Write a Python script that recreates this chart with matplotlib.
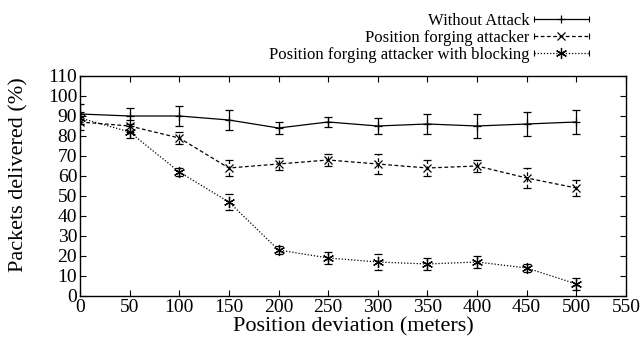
import numpy as np
import matplotlib
matplotlib.use("Agg")
import matplotlib.pyplot as plt
from matplotlib.lines import Line2D
from matplotlib.legend_handler import HandlerLine2D

plt.rcParams['font.family'] = ['Liberation Serif', 'DejaVu Serif']

# data
deviation = [0, 50, 100, 150, 200, 250, 300, 350, 400, 450, 500]
no_attack = [91, 90, 90, 88, 84, 87, 85, 86, 85, 86, 87]
no_attack_err = [5, 4, 5, 5, 3, 2.5, 4, 5, 6, 6, 6]
forging = [87, 85, 79, 64, 66, 68, 66, 64, 65, 59, 54]
forging_err = [4, 3, 3, 4, 3, 3, 5, 4, 3, 5, 4]
blocking = [89, 82, 62, 47, 23, 19, 17, 16, 17, 14, 6]
blocking_err = [3, 3, 2, 4, 2, 3, 4, 3, 3, 2, 3]
labels = ["Without Attack", "Position forging attacker",
          "Position forging attacker with blocking"]


class CapHandler(HandlerLine2D):
    # gnuplot-style key sample: line with small ticks at both ends
    def create_artists(self, legend, orig, xd, yd, w, h, fs, trans):
        arts = super().create_artists(legend, orig, xd, yd, w, h, fs, trans)
        y = yd + h / 2
        ends = Line2D([-xd, -xd + w], [y, y], linestyle='none', marker='|',
                      ms=4, mew=0.8, color='black', transform=trans)
        return list(arts) + [ends]


fig = plt.figure(figsize=(6.42, 3.51), dpi=100)
ax = fig.add_axes([0.1246, 0.1567, 0.8504, 0.6268])

star = (6, 2, 0)
series = [
    (no_attack, no_attack_err, '-', '+', 6),
    (forging, forging_err, (0, (3, 2)), 'x', 6),
    (blocking, blocking_err, (0, (1, 1.5)), star, 8),
]
handles = []
for (y, e, ls, mk, ms), lab in zip(series, labels):
    line, caps, bars = ax.errorbar(deviation, y, yerr=e, color='black', lw=0.9,
                                   linestyle=ls, marker=mk, ms=ms, mew=0.9,
                                   capsize=3, elinewidth=0.9, capthick=0.9)
    for b in bars:
        b.set_linestyle(ls)
    handles.append(Line2D([], [], color='black', lw=0.9, linestyle=ls,
                          marker=mk, ms=ms, mew=0.9))

ax.set_xlim(0, 550)
ax.set_ylim(0, 110)
ax.set_xticks(np.arange(0, 551, 50))
ax.set_yticks(np.arange(0, 111, 10))
ax.tick_params(direction='in', top=True, right=True, labelsize=14, length=4,
               width=0.8, pad=2)
for s in ax.spines.values():
    s.set_linewidth(1.0)
ax.set_xlabel("Position deviation (meters)", fontsize=16, labelpad=1)
ax.set_ylabel("Packets delivered (%)", fontsize=16, labelpad=1)
ax.yaxis.set_label_coords(-0.095, 0.55)

fig.legend(handles, labels, loc='upper right', bbox_to_anchor=(0.938, 1.0),
           frameon=False, markerfirst=False, fontsize=12, handlelength=3.3,
           handletextpad=0.25, labelspacing=0.04, borderpad=0.3,
           handler_map={Line2D: CapHandler()})

fig.savefig("out.png", dpi=100)
